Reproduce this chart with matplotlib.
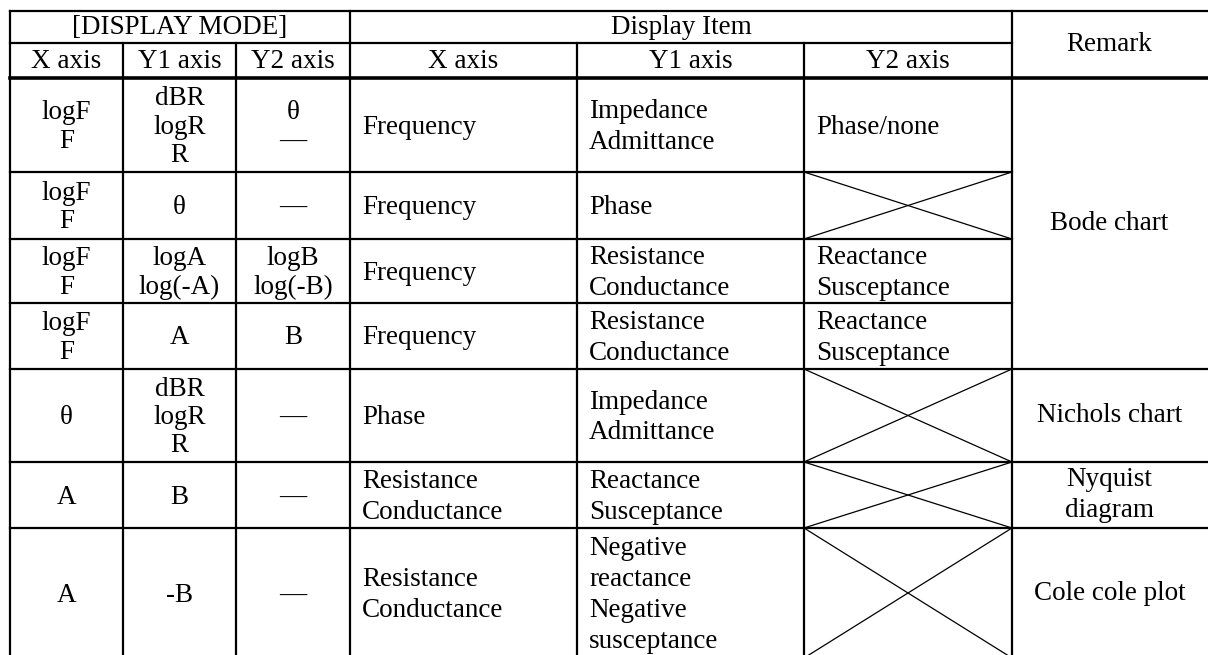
import matplotlib
matplotlib.use("Agg")
import matplotlib.pyplot as plt

plt.rcParams['font.family'] = ['Liberation Serif', 'DejaVu Serif']

# table content
mode_header = "[DISPLAY MODE]"
item_header = "Display Item"
remark_header = "Remark"
sub_headers = ["X axis", "Y1 axis", "Y2 axis", "X axis", "Y1 axis", "Y2 axis"]

mode_x = ["logF\nF", "logF\nF", "logF\nF", "logF\nF", "θ", "A", "A"]
mode_y1 = ["dBR\nlogR\nR", "θ", "logA\nlog(-A)", "A", "dBR\nlogR\nR", "B", "-B"]
mode_y2 = ["θ\n―", "―", "logB\nlog(-B)", "B", "―", "―", "―"]
item_x = ["Frequency", "Frequency", "Frequency", "Frequency", "Phase",
          "Resistance\nConductance", "Resistance\nConductance"]
item_y1 = ["Impedance\nAdmittance", "Phase", "Resistance\nConductance",
           "Resistance\nConductance", "Impedance\nAdmittance",
           "Reactance\nSusceptance",
           "Negative\nreactance\nNegative\nsusceptance"]
item_y2 = ["Phase/none", None, "Reactance\nSusceptance",
           "Reactance\nSusceptance", None, None, None]
remarks = [("Bode chart", 0, 3), ("Nichols chart", 4, 4),
           ("Nyquist\ndiagram", 5, 5), ("Cole cole plot", 6, 6)]

# layout (pixels)
W, H = 1208, 655
cols = [10, 123, 236, 350, 577, 804, 1012, 1212]
top, hmid, hbot = 11, 43, 78
rows = [78, 172, 239, 303, 369, 462, 528, 658]
FS = 19.5
LS_MODE = 1.18
LS_ITEM = 1.28

fig = plt.figure(figsize=(W / 100, H / 100), dpi=100)
ax = fig.add_axes([0, 0, 1, 1])
ax.set_xlim(0, W)
ax.set_ylim(H, 0)
ax.axis('off')


def hline(y, x0, x1, lw=1.6):
    ax.plot([x0, x1], [y, y], color='black', lw=lw, solid_capstyle='projecting')


def vline(x, y0, y1, lw=1.6):
    ax.plot([x, x], [y0, y1], color='black', lw=lw, solid_capstyle='projecting')


# grid
hline(top, cols[0], cols[-1])
hline(hmid, cols[0], cols[6])
hline(hbot, cols[0], cols[-1], lw=2.6)
for y in rows[1:-1]:
    if y in (172, 239, 303):
        hline(y, cols[0], cols[6])
    else:
        hline(y, cols[0], cols[-1])
hline(rows[-1], cols[0], cols[-1])
for x in (cols[0], cols[3], cols[6]):
    vline(x, top, rows[-1])
for x in (cols[1], cols[2], cols[4], cols[5]):
    vline(x, hmid, rows[-1])

# headers
ax.text((cols[0] + cols[3]) / 2, (top + hmid) / 2 + 1, mode_header, ha='center', va='center', fontsize=FS)
ax.text((cols[3] + cols[6]) / 2, (top + hmid) / 2 + 1, item_header, ha='center', va='center', fontsize=FS)
ax.text((cols[6] + 1207) / 2, (top + hbot) / 2, remark_header, ha='center', va='center', fontsize=FS)
for j, s in enumerate(sub_headers):
    ax.text((cols[j] + cols[j + 1]) / 2, (hmid + hbot) / 2 + 1, s, ha='center', va='center', fontsize=FS)

# body
for i in range(7):
    yc = (rows[i] + rows[i + 1]) / 2
    for j, col in enumerate([mode_x, mode_y1, mode_y2]):
        ax.text((cols[j] + cols[j + 1]) / 2, yc + 2, col[i], ha='center', va='center',
                fontsize=FS, linespacing=LS_MODE)
    for j, col in zip((3, 4, 5), [item_x, item_y1, item_y2]):
        if col[i] is None:
            ax.plot([cols[j], cols[j + 1]], [rows[i], rows[i + 1]], color='black', lw=0.9)
            ax.plot([cols[j], cols[j + 1]], [rows[i + 1], rows[i]], color='black', lw=0.9)
        else:
            ls = 1.33 if col[i].count("\n") == 3 else LS_ITEM
            ax.text(cols[j] + 12, yc + 2, col[i], ha='left', va='center',
                    fontsize=FS, linespacing=ls)

for s, r0, r1 in remarks:
    ax.text((cols[6] + 1207) / 2, (rows[r0] + rows[r1 + 1]) / 2, s,
            ha='center', va='center', fontsize=FS, linespacing=LS_ITEM)

fig.savefig("out.png", dpi=100, facecolor='white')
